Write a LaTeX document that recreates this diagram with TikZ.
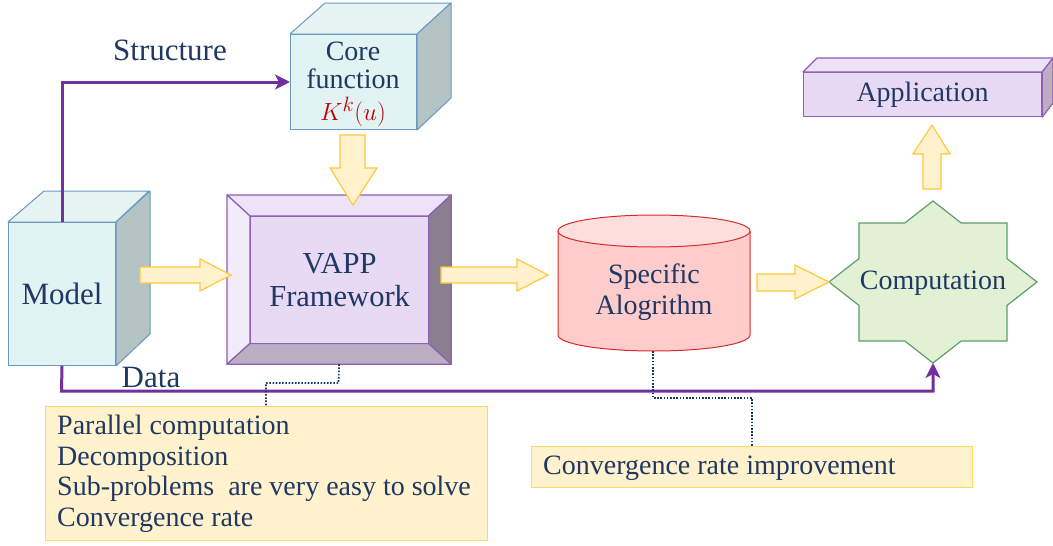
\documentclass[tikz,border=0pt]{standalone}
\usepackage{fontspec}
\setmainfont{Liberation Serif}
\usetikzlibrary{arrows.meta,calc}
\definecolor{navy}{HTML}{1F3864}
\definecolor{kred}{HTML}{C00000}
\definecolor{cubefront}{HTML}{E2F3F3}
\definecolor{cubetop}{HTML}{E6F4F4}
\definecolor{cubeside}{HTML}{B4C3C3}
\definecolor{cubeline}{HTML}{6A98C0}
\definecolor{vline}{HTML}{8E5FB5}
\definecolor{vtop}{HTML}{EDE2F7}
\definecolor{vleft}{HTML}{F1EBFA}
\definecolor{vright}{HTML}{8A7F8E}
\definecolor{vbottom}{HTML}{BBAEC3}
\definecolor{vinner}{HTML}{E8DAF4}
\definecolor{cylbody}{HTML}{FFCCCC}
\definecolor{cyltop}{HTML}{FFDEDE}
\definecolor{cylline}{HTML}{D42A2A}
\definecolor{starfill}{HTML}{E2F0D3}
\definecolor{starline}{HTML}{5E9E6A}
\definecolor{arrfill}{HTML}{FFF2CC}
\definecolor{arrline}{HTML}{FFC83D}
\definecolor{boxline}{HTML}{FFD966}
\definecolor{flowpurple}{HTML}{7030A0}
\tikzset{
  txt/.style={text=navy, font=\fontsize{28}{28}\selectfont, inner sep=0pt},
  bigtxt/.style={text=navy, font=\fontsize{31}{33}\selectfont, inner sep=0pt},
  blockarrow/.style={fill=arrfill, draw=arrline, line width=1.2pt, line join=miter},
  flow/.style={draw=flowpurple, line width=3pt, -{Stealth[length=15pt,width=15pt,inset=4pt]}},
  note/.style={draw=navy, line width=1.8pt, dash pattern=on 1.6pt off 1.6pt},
  cubeedge/.style={draw=cubeline, line width=1pt, line join=round},
  vedge/.style={draw=vline, line width=1.2pt, line join=round},
}
\begin{document}
\begin{tikzpicture}[x=1pt,y=-1pt]
\useasboundingbox (0,0) rectangle (1053,546);

% ---------- Core function cube
\node[cubeedge, fill=cubefront, minimum width=126pt, minimum height=95pt,
      anchor=north west] (core) at (290,34) {};
\path[cubeedge, fill=cubetop] (core.north west) -- ++(35,-31) -- ++(126,0)
      -- (core.north east) -- cycle;
\path[cubeedge, fill=cubeside] (core.north east) -- ++(34,-31) -- ++(0,95)
      -- (core.south east) -- cycle;
\node[txt] (coreA) at (353,51) {Core};
\node[txt] (coreB) at (353,79) {function};
\node[txt, text=kred, font=\fontsize{29}{29}\selectfont] (coreC) at (353,112) {$K^k(u)$};

% ---------- Model cube
\node[cubeedge, fill=cubefront, minimum width=107pt, minimum height=143pt,
      anchor=north west, bigtxt] (model) at (8,222) {Model};
\path[cubeedge, fill=cubetop] (model.north west) -- ++(36,-31) -- ++(105,0)
      -- (model.north east) -- cycle;
\path[cubeedge, fill=cubeside] (model.north east) -- ++(34,-31) -- ++(0,143)
      -- (model.south east) -- cycle;

% ---------- VAPP bevel
\node[vedge, fill=vtop, minimum width=223pt, minimum height=168pt,
      anchor=north west] (vapp) at (227,195) {};
\node[minimum width=178pt, minimum height=127pt, anchor=north west,
      inner sep=0pt] (vappin) at (250,216) {};
\path[vedge, fill=vtop] (vapp.north west) -- (vapp.north east)
      -- (vappin.north east) -- (vappin.north west) -- cycle;
\path[vedge, fill=vleft] (vapp.north west) -- (vappin.north west)
      -- (vappin.south west) -- (vapp.south west) -- cycle;
\path[vedge, fill=vright] (vapp.north east) -- (vapp.south east)
      -- (vappin.south east) -- (vappin.north east) -- cycle;
\path[vedge, fill=vbottom] (vapp.south west) -- (vapp.south east)
      -- (vappin.south east) -- (vappin.south west) -- cycle;
\node[vedge, fill=vinner, minimum width=178pt, minimum height=127pt,
      anchor=north west, bigtxt, align=center, font=\fontsize{30.5}{33}\selectfont]
      (vapptext) at (250,216) {VAPP\\Framework};

% ---------- Cylinder
\path[fill=cylbody] (558,231) rectangle (750,335);
\path[fill=cylbody] (654,335) ellipse [x radius=96, y radius=16];
\draw[cylline, line width=1pt] (558,231) -- (558,335)
      arc[start angle=180, end angle=0, x radius=96, y radius=16] -- (750,231);
\draw[cylline, line width=1pt, fill=cyltop] (654,231) ellipse [x radius=96, y radius=16];
\node[txt, align=center, font=\fontsize{28}{31}\selectfont] (alg) at (654,292) {Specific\\Alogrithm};
\coordinate (algS) at (653,351);

% ---------- Computation star
\draw[starline, line width=1.2pt, fill=starfill, line join=miter]
  (933,201) -- (904.8,223) -- (859,223) -- (859,258.6) -- (829,282)
  -- (859,305.4) -- (859,341) -- (904.8,341) -- (933,363) -- (961.2,341)
  -- (1007,341) -- (1007,305.4) -- (1037,282) -- (1007,258.6) -- (1007,223)
  -- (961.2,223) -- cycle;
\node[txt] (comp) at (933,283) {Computation};
\coordinate (compS) at (933,363);

% ---------- Application
\node[vedge, fill=vinner, minimum width=238pt, minimum height=44pt,
      anchor=north west, txt] (app) at (803,72) {Application};
\path[vedge, fill=vtop] (app.north west) -- ++(14,-14) -- (1053,58)
      -- (app.north east) -- cycle;
\path[vedge, fill=vbottom] (app.north east) -- (1053,58) -- (1053,103)
      -- (app.south east) -- cycle;

% ---------- Block arrows
\path[blockarrow] (140,267) -- (200,267) -- (200,259) -- (231,275)
      -- (200,291) -- (200,283) -- (140,283) -- cycle;
\path[blockarrow] (340,135) -- (365,135) -- (365,168) -- (377,168)
      -- (353,205) -- (330,168) -- (340,168) -- cycle;
\path[blockarrow] (441,267) -- (517,267) -- (517,259) -- (548,275)
      -- (517,291) -- (517,283) -- (441,283) -- cycle;
\path[blockarrow] (757,274) -- (795,274) -- (795,265) -- (829,282)
      -- (795,299) -- (795,291) -- (757,291) -- cycle;
\path[blockarrow] (923,189) -- (941,189) -- (941,154) -- (950,154)
      -- (932,125) -- (913,154) -- (923,154) -- cycle;

% ---------- Labels
\node[bigtxt] (structlbl) at (170,50) {Structure};
\node[bigtxt] (datalbl) at (151,377) {Data};

% ---------- Purple flows
\draw[flow] (model.north) |- (core.west);
\draw[flow] (model.south) -- (61.5,391) -| (compS);

% ---------- Note boxes
\node[draw=boxline, fill=arrfill, line width=1.2pt, minimum width=442pt,
      minimum height=134pt, anchor=north west] (props) at (45,406) {};
\node[txt, align=left, anchor=west, font=\fontsize{28}{30.5}\selectfont]
      (propstext) at (57,474)
      {Parallel computation\\Decomposition\\Sub-problems\ \ are very easy to solve\\Convergence rate};
\node[draw=boxline, fill=arrfill, line width=1.2pt, minimum width=441pt,
      minimum height=41pt, anchor=north west] (conv) at (531,446) {};
\node[txt, anchor=west] (convtext) at (543,468) {Convergence rate improvement};

% ---------- Dotted connectors
\coordinate (pk) at (266,406);
\coordinate (ck) at (752,446);
\draw[note] (vapp.south) -- (338.5,383) -| (pk);
\draw[note] (algS) -- (653,398) -| (ck);
\end{tikzpicture}
\end{document}
